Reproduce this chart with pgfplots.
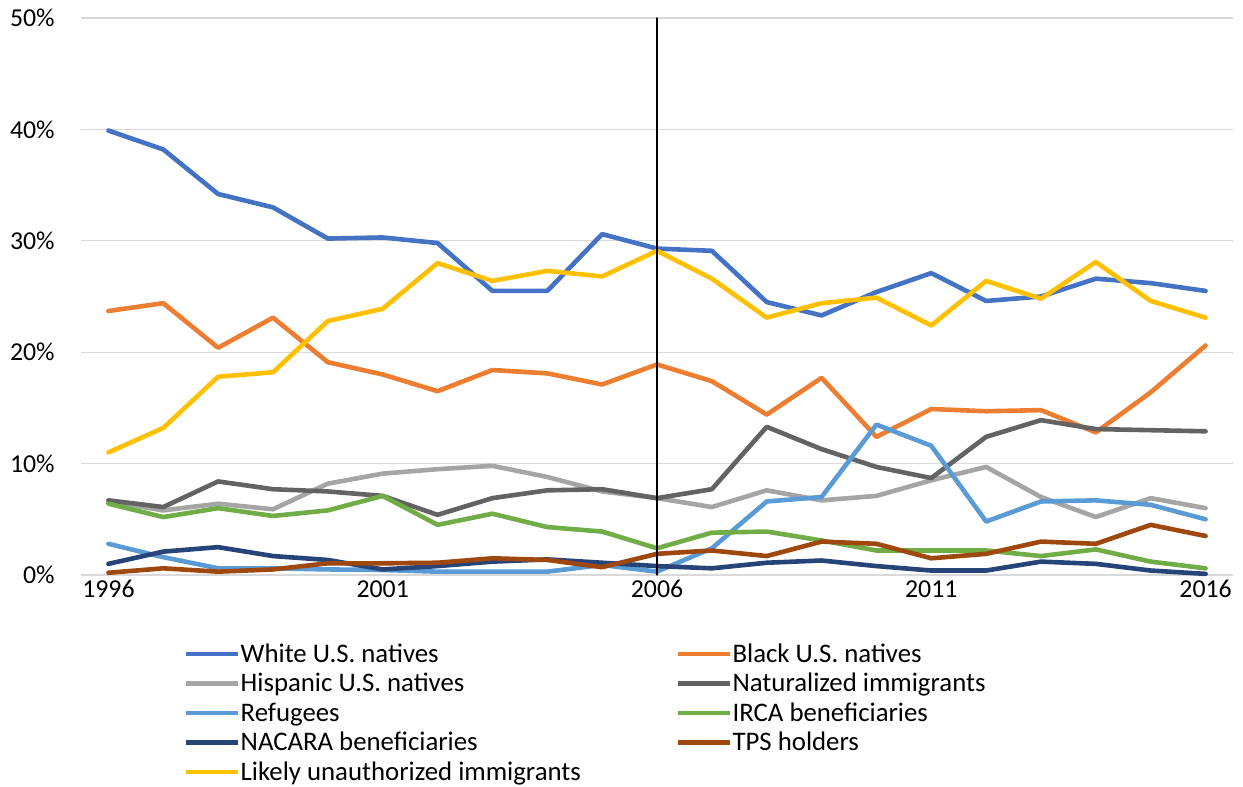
\documentclass[border=0pt]{standalone}
\usepackage{fontspec}
\setmainfont{Carlito}
\usepackage{pgfplots}
\pgfplotsset{compat=1.18}

\definecolor{cWhite}{HTML}{4472C4}
\definecolor{cBlack}{HTML}{ED7D31}
\definecolor{cHisp}{HTML}{A5A5A5}
\definecolor{cNat}{HTML}{636363}
\definecolor{cRef}{HTML}{5B9BD5}
\definecolor{cIRCA}{HTML}{70AD47}
\definecolor{cNACARA}{HTML}{264478}
\definecolor{cTPS}{HTML}{9E480E}
\definecolor{cUnauth}{HTML}{FFC000}
\definecolor{gridgray}{HTML}{D9D9D9}

% Share of each group, percent, 1996--2016
\pgfplotstableread{
year white black hisp nat ref irca nacara tps unauth
1996 39.9 23.7 6.6 6.7 2.8 6.4 1.0 0.2 11.0
1997 38.2 24.4 5.8 6.1 1.6 5.2 2.1 0.6 13.2
1998 34.2 20.4 6.4 8.4 0.6 6.0 2.5 0.3 17.8
1999 33.0 23.1 5.9 7.7 0.6 5.3 1.7 0.5 18.2
2000 30.2 19.1 8.2 7.5 0.5 5.8 1.35 1.05 22.8
2001 30.3 18.0 9.1 7.1 0.45 7.1 0.5 1.05 23.9
2002 29.8 16.5 9.5 5.4 0.3 4.5 0.8 1.1 28.0
2003 25.5 18.4 9.8 6.9 0.3 5.5 1.2 1.5 26.4
2004 25.5 18.1 8.8 7.6 0.3 4.3 1.4 1.35 27.3
2005 30.6 17.1 7.5 7.7 0.9 3.9 1.1 0.7 26.8
2006 29.3 18.9 6.9 6.9 0.3 2.4 0.8 1.9 29.1
2007 29.1 17.4 6.1 7.7 2.4 3.8 0.6 2.2 26.6
2008 24.5 14.4 7.6 13.3 6.6 3.9 1.1 1.7 23.1
2009 23.3 17.7 6.7 11.3 7.0 3.1 1.3 3.0 24.4
2010 25.4 12.4 7.1 9.7 13.5 2.2 0.8 2.8 24.9
2011 27.1 14.9 8.5 8.7 11.6 2.2 0.4 1.5 22.4
2012 24.6 14.7 9.7 12.4 4.8 2.2 0.4 1.9 26.4
2013 25.0 14.8 7.0 13.9 6.6 1.7 1.2 3.0 24.8
2014 26.6 12.8 5.2 13.1 6.7 2.3 1.0 2.8 28.1
2015 26.2 16.4 6.9 13.0 6.3 1.2 0.4 4.5 24.6
2016 25.5 20.6 6.0 12.9 5.0 0.6 0.1 3.5 23.1
}\shares

\begin{document}
\begin{tikzpicture}
\path[use as bounding box] (-40.5pt,-106pt) rectangle (581pt,287.5pt);
\begin{axis}[
  at={(0pt,0pt)}, anchor=south west,
  scale only axis, width=576pt, height=278.5pt,
  xmin=1995.5, xmax=2016.5, ymin=0, ymax=50,
  clip=false,
  axis line style={draw=none},
  major tick length=0pt,
  xtick={1996,2001,2006,2011,2016},
  ytick={0,10,20,30,40,50},
  ymajorgrids, grid style={gridgray, line width=0.6pt},
  /pgf/number format/1000 sep={},
  /pgf/number format/assume math mode=true,
  yticklabel={\pgfmathprintnumber{\tick}\%},
  tick label style={font=\fontsize{12.9}{15}\selectfont, black},
  yticklabel style={anchor=east, inner sep=0pt, xshift=-13pt},
  xticklabel style={anchor=north, inner sep=0pt, yshift=-2.5pt},
  every axis plot/.append style={line width=2.3pt, line join=round, line cap=round},
  legend columns=2,
  legend cell align=left,
  legend image code/.code={\draw[#1, line cap=butt] (0pt,0pt) -- (26pt,0pt);},
  legend style={
    at={(axis description cs:0.0895,-0.1203)}, anchor=north west,
    draw=none, fill=none, inner sep=0pt, outer sep=0pt,
    font=\fontsize{13.4}{15}\selectfont,
    row sep=2.75pt,
    nodes={inner sep=0pt, text height=10pt, text depth=2pt},
    /tikz/every odd column/.append style={column sep=0pt},
    /tikz/every even column/.append style={column sep=47.5pt},
  },
]
\addplot[cWhite]   table[x=year, y=white]  {\shares};
\addlegendentry{White U.S. natives}
\addplot[cBlack]   table[x=year, y=black]  {\shares};
\addlegendentry{Black U.S. natives}
\addplot[cHisp]    table[x=year, y=hisp]   {\shares};
\addlegendentry{Hispanic U.S. natives}
\addplot[cNat]     table[x=year, y=nat]    {\shares};
\addlegendentry{Naturalized immigrants}
\addplot[cRef]     table[x=year, y=ref]    {\shares};
\addlegendentry{Refugees}
\addplot[cIRCA]    table[x=year, y=irca]   {\shares};
\addlegendentry{IRCA beneficiaries}
\addplot[cNACARA]  table[x=year, y=nacara] {\shares};
\addlegendentry{NACARA beneficiaries}
\addplot[cTPS]     table[x=year, y=tps]    {\shares};
\addlegendentry{TPS holders}
\addplot[cUnauth]  table[x=year, y=unauth] {\shares};
\addlegendentry{Likely unauthorized immigrants}
% marker for 2006
\addplot[black, line width=0.6pt, forget plot] coordinates {(2006,0) (2006,50)};
\end{axis}
\end{tikzpicture}
\end{document}
